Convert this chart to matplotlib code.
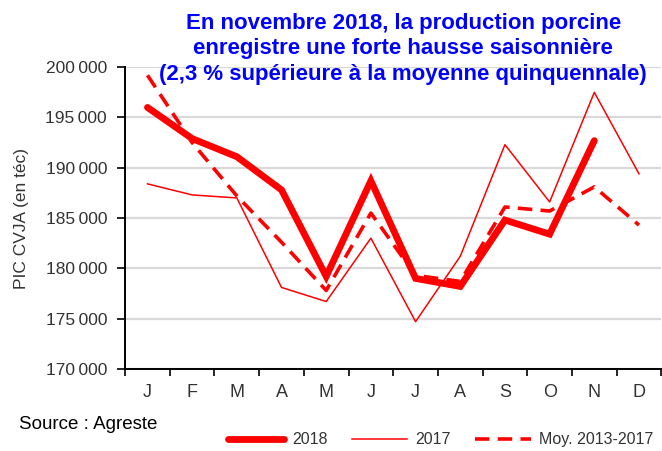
import matplotlib
matplotlib.use('Agg')
import matplotlib.pyplot as plt
from matplotlib.ticker import FixedLocator, FuncFormatter

months = ['J', 'F', 'M', 'A', 'M', 'J', 'J', 'A', 'S', 'O', 'N', 'D']

prod_2018 = [196000, 192900, 191100, 187800, 179200, 188700, 179000, 178200, 184800, 183400, 192700]
prod_2017 = [188400, 187300, 187000, 178100, 176700, 183000, 174700, 181200, 192300, 186600, 197500, 189400]
moy_2013_2017 = [199200, 192500, 187200, 182600, 177800, 185500, 179300, 178700, 186100, 185700, 188100, 184300]

plt.rcParams['font.family'] = ['Liberation Sans', 'DejaVu Sans']

fig = plt.figure(figsize=(6.62, 4.51), dpi=100)
ax = fig.add_axes([0.189, 0.182, 0.81, 0.669])

x = list(range(len(months)))
ax.plot(x[:len(prod_2018)], prod_2018, color='#ff0000', lw=4.9, solid_capstyle='round',
        solid_joinstyle='miter', label='2018', zorder=4)
ax.plot(x, prod_2017, color='#ff0000', lw=1.1, label='2017', zorder=3)
ax.plot(x, moy_2013_2017, color='#ff0000', lw=2.6, dashes=(4, 2.3),
        label='Moy. 2013-2017', zorder=3)

ax.set_xlim(-0.5, 11.5)
ax.set_ylim(170000, 200000)
ax.set_yticks(range(170000, 200001, 5000))
ax.yaxis.set_major_formatter(FuncFormatter(lambda v, p: f'{int(v):,}'.replace(',', '\u2009')))
ax.set_xticks(x)
ax.set_xticklabels(months)
ax.xaxis.set_minor_locator(FixedLocator([i - 0.5 for i in range(13)]))
ax.tick_params(axis='x', which='major', length=0, pad=11, labelsize=13, colors='#333333')
ax.tick_params(axis='x', which='minor', length=5, width=1.2, direction='out', color='black')
ax.tick_params(axis='y', length=6, width=1.2, direction='out', labelsize=12.5,
               labelcolor='#333333', color='black', pad=7)

ax.grid(axis='y', color='#d9d9d9', lw=1.6, zorder=0)
ax.set_axisbelow(True)
for s in ['top', 'right']:
    ax.spines[s].set_visible(False)
for s in ['left', 'bottom']:
    ax.spines[s].set_linewidth(1.4)
    ax.spines[s].set_color('black')

ax.set_ylabel('PIC CVJA (en téc)', fontsize=12.5, color='#333333', labelpad=12)

fig.text(0.609, 0.972, 'En novembre 2018, la production porcine\n'
         'enregistre une forte hausse saisonnière\n'
         '(2,3 % supérieure à la moyenne quinquennale)',
         ha='center', va='top', color='#0000ff', fontweight='bold', fontsize=16,
         linespacing=1.3)

fig.text(0.028, 0.058, 'Source : Agreste', fontsize=13.5, color='black', va='center')

fig.legend(loc='center right', bbox_to_anchor=(1.008, 0.025), ncol=3, frameon=False,
           fontsize=11.5, handlelength=3.5, columnspacing=1.5, handletextpad=0.5,
           labelcolor='#333333')

fig.savefig('out.png', dpi=100)
